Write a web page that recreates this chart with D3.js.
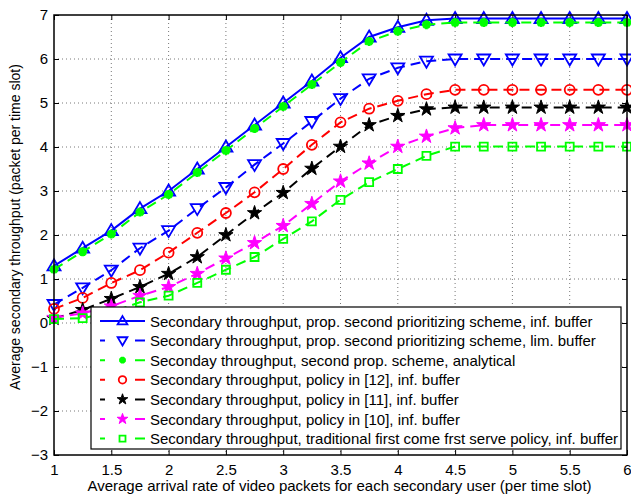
<!DOCTYPE html>
<html><head><meta charset="utf-8">
<script src="https://cdn.jsdelivr.net/npm/d3@7"></script>
<style>
html,body{margin:0;padding:0;background:#fff;}
svg{display:block;font-family:"Liberation Sans",Arial,sans-serif;}
</style></head>
<body>
<svg id="chart" width="631" height="497"></svg>
<script>
// ---- data ----
const xValues = [1,1.25,1.5,1.75,2,2.25,2.5,2.75,3,3.25,3.5,3.75,4,4.25,4.5,4.75,5,5.25,5.5,5.75,6];
const propInfBuffer   = [1.3,1.7,2.1,2.6,3.0,3.5,4.0,4.5,5.0,5.5,6.03,6.5,6.72,6.88,6.92,6.92,6.92,6.92,6.92,6.92,6.92];
const propLimBuffer   = [0.42,0.8,1.2,1.7,2.1,2.6,3.08,3.6,4.08,4.58,5.1,5.55,5.8,5.95,6.0,6.0,6.0,6.0,6.0,6.0,6.0];
const propAnalytical  = [1.22,1.62,2.02,2.52,2.92,3.42,3.92,4.42,4.92,5.42,5.92,6.4,6.63,6.78,6.83,6.83,6.83,6.83,6.83,6.83,6.83];
const policy12        = [0.32,0.57,0.91,1.2,1.6,2.05,2.5,2.97,3.5,4.05,4.56,4.87,5.05,5.2,5.3,5.3,5.3,5.3,5.3,5.3,5.3];
const policy11        = [0.1,0.3,0.55,0.82,1.12,1.5,2.0,2.5,2.96,3.51,4.01,4.5,4.71,4.86,4.9,4.9,4.9,4.9,4.9,4.9,4.9];
const policy10        = [0.12,0.22,0.38,0.62,0.82,1.12,1.47,1.82,2.21,2.71,3.22,3.63,4.01,4.24,4.43,4.5,4.5,4.5,4.5,4.5,4.5];
const fcfsPolicy      = [0.09,0.11,0.25,0.47,0.62,0.91,1.21,1.5,1.91,2.31,2.8,3.2,3.5,3.8,4.01,4.01,4.01,4.01,4.01,4.01,4.01];

const seriesNames = [
  "Secondary throughput, prop. second prioritizing scheme, inf. buffer",
  "Secondary throughput, prop. second prioritizing scheme, lim. buffer",
  "Seconday throughput, second prop. scheme, analytical",
  "Secondary throughput, policy in [12], inf. buffer",
  "Secondary throughput, policy in [11], inf. buffer",
  "Secondary throughput, policy in [10], inf. buffer",
  "Secondary throughput, traditional first come frst serve policy, inf. buffer"
];
const seriesValues = [propInfBuffer, propLimBuffer, propAnalytical, policy12, policy11, policy10, fcfsPolicy];
const seriesColors = ["#0000ff","#0000ff","#00ff00","#ff0000","#000000","#ff00ff","#00ff00"];
const seriesMarkers = ["triUp","triDown","asterisk","circle","starFill","starFill","square"];
const seriesDashed = [false,true,true,true,true,true,true];

const xTicks = [1,1.5,2,2.5,3,3.5,4,4.5,5,5.5,6];
const yTicks = [-3,-2,-1,0,1,2,3,4,5,6,7];
const xLabel = "Average arrival rate of video packets for each secondary user (per time slot)";
const yLabel = "Average secondary throughput (packet per time slot)";

// ---- layout ----
const svg = d3.select("#chart");
const L = 54, R = 627, T = 15, B = 455;
const x = d3.scaleLinear().domain([1,6]).range([L,R]);
const y = d3.scaleLinear().domain([-3,7]).range([B,T]);

// grid
const g = svg.append("g");
xTicks.forEach(t => {
  if (t===1||t===6) return;
  g.append("line").attr("x1",x(t)).attr("x2",x(t)).attr("y1",T).attr("y2",B)
   .attr("stroke","#555").attr("stroke-width",0.8).attr("stroke-dasharray","1,3");
});
yTicks.forEach(t => {
  if (t===-3||t===7) return;
  g.append("line").attr("x1",L).attr("x2",R).attr("y1",y(t)).attr("y2",y(t))
   .attr("stroke","#555").attr("stroke-width",0.8).attr("stroke-dasharray","1,3");
});

// axes (ticks inside, all four sides)
const tickStyle = sel => {
  sel.select(".domain").remove();
  sel.selectAll(".tick line").attr("stroke","#000").attr("stroke-width",1);
  sel.selectAll(".tick text").attr("fill","#000").style("font-size","15px")
    .style("font-family","'Liberation Sans',Arial,sans-serif");
};
const fmt = d => (d<0 ? "\u2212"+Math.abs(d) : String(d));
svg.append("g").attr("transform",`translate(0,${B})`)
  .call(d3.axisBottom(x).tickValues(xTicks).tickSize(-5).tickPadding(9).tickFormat(fmt))
  .call(tickStyle);
svg.append("g").attr("transform",`translate(0,${T})`)
  .call(d3.axisTop(x).tickValues(xTicks).tickSize(-5).tickFormat(""))
  .call(tickStyle);
svg.append("g").attr("transform",`translate(${L},0)`)
  .call(d3.axisLeft(y).tickValues(yTicks).tickSize(-5).tickPadding(6).tickFormat(fmt))
  .call(tickStyle);
svg.append("g").attr("transform",`translate(${R},0)`)
  .call(d3.axisRight(y).tickValues(yTicks).tickSize(-5).tickFormat(""))
  .call(tickStyle);

// marker paths
function markerPath(type, s) {
  const p = d3.path();
  if (type==="triUp") {
    p.moveTo(0,-6.5*s); p.lineTo(6.5*s,4.5*s); p.lineTo(-6.5*s,4.5*s); p.closePath();
  } else if (type==="triDown") {
    p.moveTo(0,6.5*s); p.lineTo(6.5*s,-4.5*s); p.lineTo(-6.5*s,-4.5*s); p.closePath();
  } else if (type==="circle") {
    p.arc(0,0,5*s,0,2*Math.PI); p.closePath();
  } else if (type==="square") {
    p.rect(-4*s,-4*s,8*s,8*s);
  } else if (type==="starFill") {
    const Ro = 7.5*s, Ri = Ro*0.382;
    for (let i=0;i<10;i++){
      const r = i%2===0?Ro:Ri;
      const a = -Math.PI/2 + i*Math.PI/5;
      const px = r*Math.cos(a), py = r*Math.sin(a);
      if (i===0) p.moveTo(px,py); else p.lineTo(px,py);
    }
    p.closePath();
  } else if (type==="asterisk") {
    const r = 4.5*s;
    for (let i=0;i<4;i++){
      const a = i*Math.PI/4;
      p.moveTo(-r*Math.cos(a),-r*Math.sin(a)); p.lineTo(r*Math.cos(a),r*Math.sin(a));
    }
  }
  return p.toString();
}
function drawMarker(sel, type, color, s) {
  const filled = type==="starFill";
  sel.append("path").attr("d",markerPath(type,s))
    .attr("fill", filled?color:"none")
    .attr("stroke", color)
    .attr("stroke-width", type==="asterisk"?2.8:(filled?1:1.8))
    .attr("stroke-linejoin","miter");
}

// series
const line = d3.line().x(d=>x(d[0])).y(d=>y(d[1]));
const plot = svg.append("g");
seriesValues.forEach((vals,i) => {
  const pts = xValues.map((xv,j)=>[xv,vals[j]]);
  plot.append("path").attr("d",line(pts)).attr("fill","none")
    .attr("stroke",seriesColors[i]).attr("stroke-width",2)
    .attr("stroke-dasharray", seriesDashed[i]?"10,6":null);
  pts.forEach(pt => {
    const m = plot.append("g").attr("transform",`translate(${x(pt[0])},${y(pt[1])})`);
    drawMarker(m, seriesMarkers[i], seriesColors[i], 1);
  });
});

// frame
svg.append("rect").attr("x",L).attr("y",T).attr("width",R-L).attr("height",B-T)
  .attr("fill","none").attr("stroke","#000").attr("stroke-width",1.5);

// legend
const lg = svg.append("g");
const LX = 91, LY = 307, LW = 530, LH = 142;
lg.append("rect").attr("x",LX).attr("y",LY).attr("width",LW).attr("height",LH)
  .attr("fill","#fff").attr("stroke","#000").attr("stroke-width",1.2);
seriesNames.forEach((name,i) => {
  const cy = 321 + i*19.6;
  lg.append("line").attr("x1",100).attr("x2",145).attr("y1",cy).attr("y2",cy)
    .attr("stroke",seriesColors[i]).attr("stroke-width",2)
    .attr("stroke-dasharray", seriesDashed[i]?"5,30,10":null);
  const m = lg.append("g").attr("transform",`translate(122.5,${cy})`);
  drawMarker(m, seriesMarkers[i], seriesColors[i], 0.75);
  lg.append("text").attr("x",150).attr("y",cy+5.5).text(name)
    .style("font-size","15px").attr("fill","#000");
});

// axis labels
svg.append("text").attr("x",(L+R)/2 - 1).attr("y",491).attr("text-anchor","middle")
  .style("font-size","15px").text(xLabel);
svg.append("text").attr("transform",`translate(20,${(T+B)/2 - 8}) rotate(-90)`)
  .attr("text-anchor","middle").style("font-size","14px").text(yLabel);
</script>
</body></html>
